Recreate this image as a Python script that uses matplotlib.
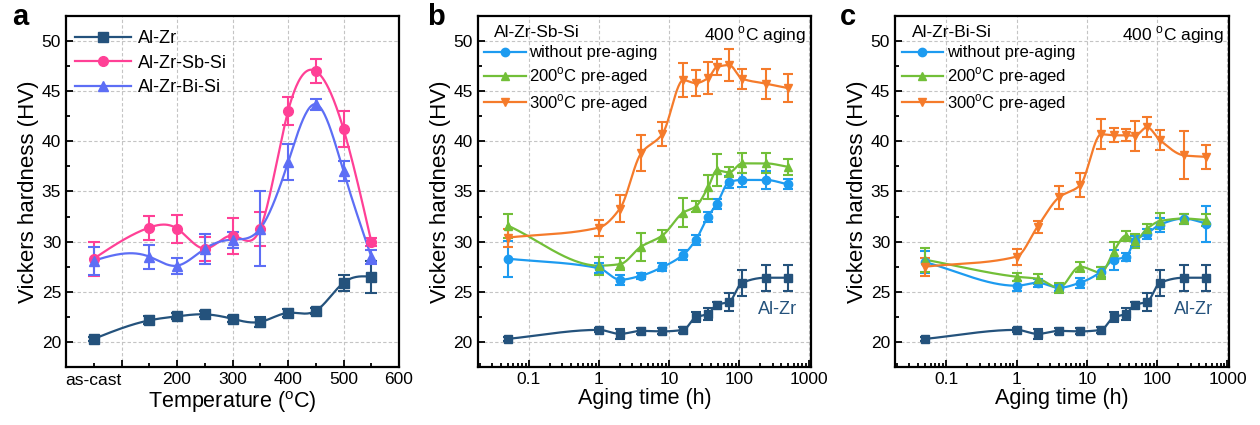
import matplotlib
matplotlib.use('Agg')
import matplotlib.pyplot as plt
import numpy as np
from matplotlib.lines import Line2D
from matplotlib.ticker import LogLocator, MultipleLocator, NullFormatter

plt.rcParams['font.family'] = ['Liberation Sans', 'DejaVu Sans']
plt.rcParams['mathtext.fontset'] = 'custom'
plt.rcParams['mathtext.rm'] = 'Liberation Sans'

# ---- panel a: hardness vs temperature (as-cast plotted at 50)
temp = [50, 150, 200, 250, 300, 350, 400, 450, 500, 550]
alzr_a = [20.3, 22.15, 22.55, 22.75, 22.3, 22.0, 22.9, 23.1, 25.9, 26.5]
alzr_a_err = [0.2, 0.4, 0.3, 0.3, 0.3, 0.5, 0.4, 0.3, 0.8, 1.6]
sb_a = [28.3, 31.4, 31.3, 29.3, 30.6, 31.3, 43.0, 47.0, 41.2, 30.0]
sb_a_err = [1.7, 1.2, 1.4, 1.2, 1.8, 1.7, 1.4, 1.2, 1.8, 0.4]
bi_a = [28.1, 28.5, 27.6, 29.3, 30.2, 31.3, 37.9, 43.7, 37.0, 28.5]
bi_a_err = [1.4, 1.2, 0.8, 1.5, 0.8, 3.7, 1.8, 0.55, 1.0, 0.7]

# ---- panels b, c: hardness vs aging time at 400 C
time_h = [0.05, 1, 2, 4, 8, 16, 24, 36, 48, 72, 110, 240, 500]
alzr_t = [20.3, 21.2, 20.8, 21.1, 21.05, 21.2, 22.45, 22.8, 23.7, 24.0, 25.9, 26.4, 26.4]
alzr_t_err = [0.2, 0.2, 0.5, 0.3, 0.3, 0.3, 0.5, 0.6, 0.3, 0.9, 1.3, 1.3, 1.3]

sb_none = [28.3, 27.35, 26.2, 26.6, 27.45, 28.7, 30.15, 32.5, 33.75, 35.95, 36.15, 36.15, 35.7]
sb_none_err = [1.8, 0.5, 0.5, 0.3, 0.4, 0.5, 0.5, 0.5, 0.5, 0.6, 0.7, 0.9, 0.5]
sb_200 = [31.6, 27.6, 27.75, 29.5, 30.6, 32.9, 33.5, 35.4, 37.1, 36.9, 37.8, 37.8, 37.45]
sb_200_err = [1.2, 0.9, 0.6, 1.4, 0.6, 1.4, 0.5, 1.2, 1.6, 0.5, 1.0, 1.0, 0.8]
sb_300 = [30.4, 31.4, 33.3, 38.8, 40.7, 46.1, 45.8, 46.3, 47.4, 47.6, 46.25, 45.75, 45.3]
sb_300_err = [0.9, 0.8, 1.3, 1.8, 1.2, 1.7, 1.3, 1.6, 0.8, 1.6, 1.0, 1.5, 1.4]

bi_none = [27.95, 25.6, 25.9, 25.4, 25.9, 27.0, 28.2, 28.45, 30.1, 30.8, 31.7, 32.3, 31.8]
bi_none_err = [1.1, 0.5, 0.4, 0.3, 0.5, 0.5, 1.0, 0.4, 0.5, 0.5, 0.7, 0.5, 1.8]
bi_200 = [28.2, 26.5, 26.3, 25.4, 27.5, 26.9, 29.0, 30.6, 30.1, 31.3, 32.05, 32.3, 32.15]
bi_200_err = [1.2, 0.4, 0.5, 0.5, 0.5, 0.6, 1.0, 0.5, 0.7, 0.5, 0.8, 0.5, 0.6]
bi_300 = [27.5, 28.5, 31.5, 34.4, 35.6, 40.7, 40.6, 40.6, 40.55, 41.4, 40.1, 38.6, 38.45]
bi_300_err = [0.9, 0.8, 0.6, 1.1, 1.2, 1.5, 0.7, 0.6, 1.5, 1.0, 1.0, 2.4, 1.2]

C_ALZR = '#24527c'
C_SB = '#ff4096'
C_BI = '#5d6ef5'
C_NONE = '#1d9bf0'
C_200 = '#72bf38'
C_300 = '#f57b2b'


def hermite(x, y, d, n=400):
    xs = np.linspace(x[0], x[-1], n)
    j = np.clip(np.searchsorted(x, xs) - 1, 0, len(x) - 2)
    h = x[j + 1] - x[j]
    u = (xs - x[j]) / h
    ys = ((2 * u ** 3 - 3 * u ** 2 + 1) * y[j] + (u ** 3 - 2 * u ** 2 + u) * h * d[j]
          + (-2 * u ** 3 + 3 * u ** 2) * y[j + 1] + (u ** 3 - u ** 2) * h * d[j + 1])
    return xs, ys


def natural_spline(x, y):
    # natural cubic spline, only for the connecting curve
    k = len(x)
    h = np.diff(x)
    A = np.zeros((k, k))
    r = np.zeros(k)
    A[0, 0] = A[-1, -1] = 1
    for i in range(1, k - 1):
        A[i, i - 1] = h[i - 1]
        A[i, i] = 2 * (h[i - 1] + h[i])
        A[i, i + 1] = h[i]
        r[i] = 6 * ((y[i + 1] - y[i]) / h[i] - (y[i] - y[i - 1]) / h[i - 1])
    m = np.linalg.solve(A, r)
    s = np.diff(y) / h
    d = np.zeros(k)
    d[:-1] = s - h * (2 * m[:-1] + m[1:]) / 6
    d[-1] = s[-1] + h[-1] * (m[-2] + 2 * m[-1]) / 6
    return hermite(x, y, d)


def pchip(x, y):
    # monotone curve, no overshoot across the wide gaps of the log axis
    h = np.diff(x)
    s = np.diff(y) / h
    k = len(x)
    d = np.zeros(k)
    for i in range(1, k - 1):
        if s[i - 1] * s[i] > 0:
            w1 = 2 * h[i] + h[i - 1]
            w2 = h[i] + 2 * h[i - 1]
            d[i] = (w1 + w2) / (w1 / s[i - 1] + w2 / s[i])
    # ends follow the secant of the first/last segment
    d[0] = s[0]
    d[-1] = s[-1]
    return hermite(x, y, d)


def series(ax, x, y, err, color, marker, ms, cap, log=False):
    ax.errorbar(x, y, yerr=err, fmt='none', ecolor=color, elinewidth=1.5,
                capsize=cap, capthick=1.5, zorder=2)
    xa = np.asarray(x, float)
    ya = np.asarray(y, float)
    if log:
        xs, ys = pchip(np.log10(xa), ya)
        xs = 10 ** xs
    else:
        xs, ys = natural_spline(xa, ya)
    ax.plot(xs, ys, color=color, lw=1.6, zorder=3)
    ax.plot(x, y, ls='none', marker=marker, color=color, ms=ms, zorder=4)
    return Line2D([], [], color=color, lw=1.6, marker=marker, ms=ms)


def style(ax):
    for s in ax.spines.values():
        s.set_linewidth(1.6)
    ax.tick_params(which='both', direction='in', top=False, right=False,
                   labelsize=12.5, width=1.3)
    ax.tick_params(which='major', length=5)
    ax.tick_params(which='minor', length=3)
    ax.grid(True, which='major', color='#c4c4c4', lw=0.8, ls=(0, (3, 2)))
    ax.set_ylim(17.5, 52.5)
    ax.yaxis.set_major_locator(MultipleLocator(5))
    ax.yaxis.set_minor_locator(MultipleLocator(2.5))
    ax.set_yticks([20, 25, 30, 35, 40, 45, 50])
    ax.set_ylabel('Vickers hardness (HV)', fontsize=16, labelpad=2)


fig = plt.figure(figsize=(12.6, 4.25), dpi=100)
ax_a = fig.add_axes([0.0524, 0.1365, 0.2643, 0.826])
ax_b = fig.add_axes([0.3791, 0.1365, 0.2646, 0.826])
ax_c = fig.add_axes([0.7103, 0.1365, 0.2653, 0.826])

# panel a
style(ax_a)
h1 = series(ax_a, temp, alzr_a, alzr_a_err, C_ALZR, 's', 7, 4)
h2 = series(ax_a, temp, sb_a, sb_a_err, C_SB, 'o', 7, 4)
h3 = series(ax_a, temp, bi_a, bi_a_err, C_BI, '^', 7, 4)
ax_a.set_xlim(0, 600)
ax_a.set_xticks([100, 200, 300, 400, 500, 600], labels=['', '200', '300', '400', '500', '600'])
ax_a.set_xticks([50, 150, 250, 350, 450, 550], labels=['as-cast', '', '', '', '', ''], minor=True)
ax_a.tick_params(axis='x', which='minor', labelsize=12.5, pad=4)
ax_a.set_xlabel('Temperature ($^{\\mathrm{o}}$C)', fontsize=15.5, labelpad=1)
ax_a.legend([h1, h2, h3], ['Al-Zr', 'Al-Zr-Sb-Si', 'Al-Zr-Bi-Si'], loc='upper left',
            bbox_to_anchor=(0.0, 0.985), frameon=False, fontsize=13, handlelength=3.1,
            handletextpad=0.4, labelspacing=0.42, borderaxespad=0.3, borderpad=0.2)
fig.text(0.016, 0.96, 'a', fontsize=21, fontweight='bold', va='center', ha='center')

# panels b and c
panels = [
    (ax_b, 'b', 'Al-Zr-Sb-Si', sb_none, sb_none_err, sb_200, sb_200_err, sb_300, sb_300_err, 0.3460),
    (ax_c, 'c', 'Al-Zr-Bi-Si', bi_none, bi_none_err, bi_200, bi_200_err, bi_300, bi_300_err, 0.6730),
]
for ax, letter, alloy, yn, en, y2, e2, y3, e3, lx in panels:
    style(ax)
    ax.set_xscale('log')
    series(ax, time_h, alzr_t, alzr_t_err, C_ALZR, 's', 6, 3.5, log=True)
    hn = series(ax, time_h, yn, en, C_NONE, 'o', 6, 3.5, log=True)
    h2 = series(ax, time_h, y2, e2, C_200, '^', 6, 3.5, log=True)
    h3 = series(ax, time_h, y3, e3, C_300, 'v', 6, 3.5, log=True)
    ax.set_xlim(0.0187, 1060)
    ax.xaxis.set_major_locator(LogLocator(base=10, numticks=10))
    ax.xaxis.set_minor_locator(LogLocator(base=10, subs=np.arange(2, 10), numticks=10))
    ax.xaxis.set_minor_formatter(NullFormatter())
    ax.set_xticks([0.1, 1, 10, 100, 1000], labels=['0.1', '1', '10', '100', '1000'])
    ax.set_xlabel('Aging time (h)', fontsize=15.5, labelpad=1)
    ax.text(0.05, 0.975, alloy, transform=ax.transAxes, fontsize=12.5, ha='left', va='top')
    ax.text(0.985, 0.975, '400 $^{\\mathrm{o}}$C aging', transform=ax.transAxes,
            fontsize=12.5, ha='right', va='top')
    ax.text(620 if letter == 'c' else 660, 23.2, 'Al-Zr', color=C_ALZR, fontsize=13,
            ha='right', va='center')
    ax.legend([hn, h2, h3], ['without pre-aging', '200$^{\\mathrm{o}}$C pre-aged',
                             '300$^{\\mathrm{o}}$C pre-aged'],
              loc='upper left', bbox_to_anchor=(0.0, 0.935), frameon=False, fontsize=12,
              handlelength=2.5, handletextpad=0.2, labelspacing=0.3,
              borderaxespad=0.2, borderpad=0.2)
    fig.text(lx, 0.96, letter, fontsize=21, fontweight='bold', va='center', ha='center')

fig.savefig('out.png', dpi=100)
